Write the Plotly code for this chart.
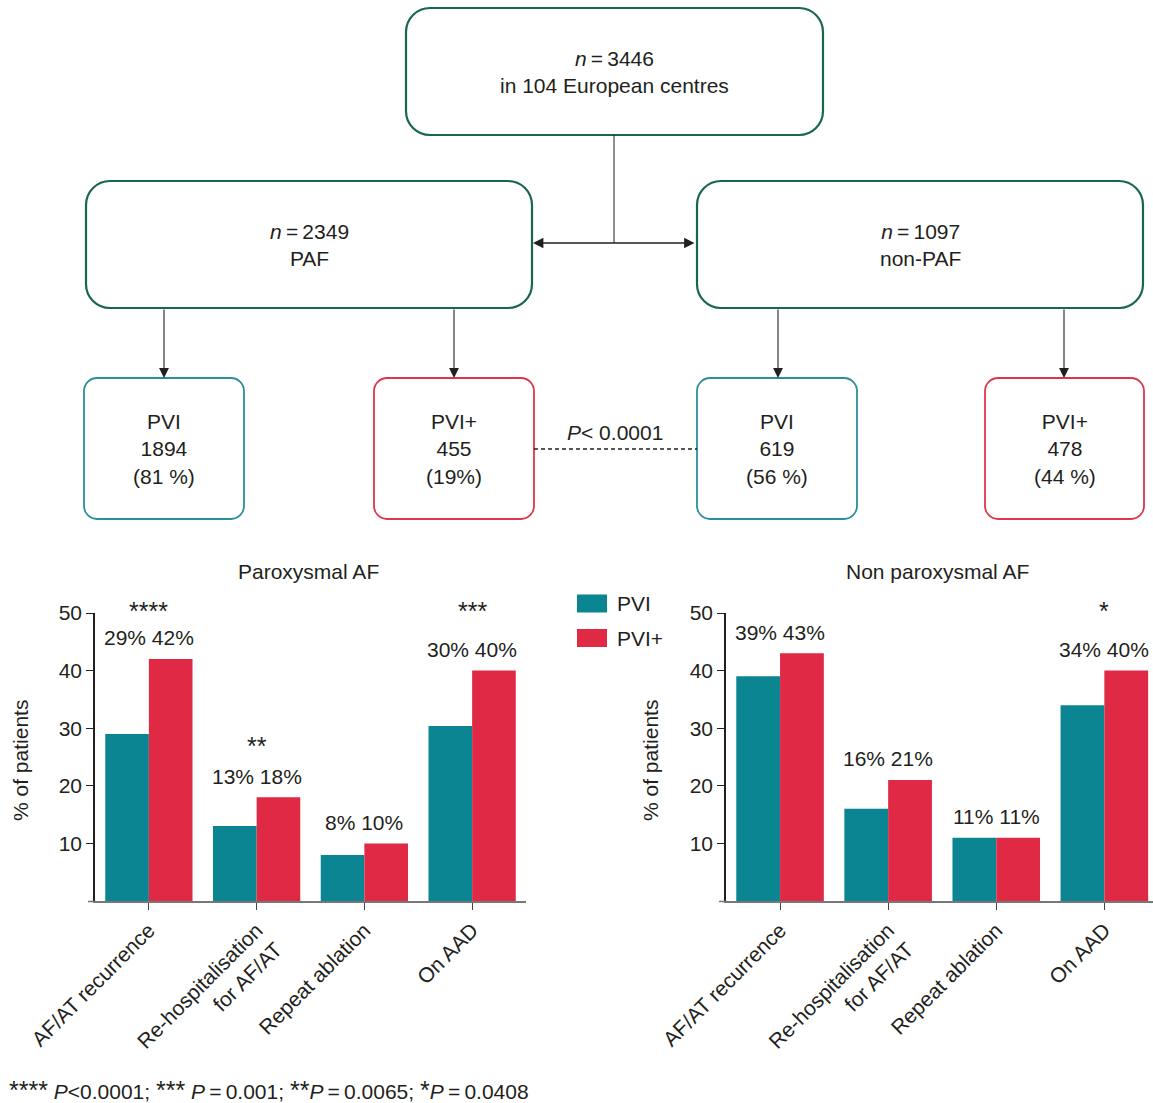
import plotly.graph_objects as go
import numpy as np

W, H = 1153, 1103

# ---------------- data ----------------
categories = ["AF/AT recurrence", "Re-hospitalisation<br>for AF/AT", "Repeat ablation", "On AAD"]
series_names = ["PVI", "PVI+"]

paf_pvi = [29, 13, 8, 30.4]
paf_pvi_plus = [42, 18, 10, 40]
paf_labels = ["29% 42%", "13% 18%", "8% 10%", "30% 40%"]
paf_sig = ["****", "**", "", "***"]

npaf_pvi = [39, 16, 11, 34]
npaf_pvi_plus = [43, 21, 11, 40]
npaf_labels = ["39% 43%", "16% 21%", "11% 11%", "34% 40%"]
npaf_sig = ["", "", "", "*"]

y_ticks = [10, 20, 30, 40, 50]
panel_titles = ["Paroxysmal AF", "Non paroxysmal AF"]
y_title = "% of patients"

top_text = "<i>n</i>\u2009=\u20093446<br>in 104 European centres"
paf_text = "<i>n</i>\u2009=\u20092349<br>PAF"
npaf_text = "<i>n</i>\u2009=\u20091097<br>non-PAF"
arm_texts = ["PVI<br>1894<br>(81 %)", "PVI+<br>455<br>(19%)", "PVI<br>619<br>(56 %)", "PVI+<br>478<br>(44 %)"]
p_text = "<i>P</i>&lt; 0.0001"
STAR = '<span style="font-size:25px">{}</span>'
footnote = (STAR.format("****") + " <i>P</i>&lt;0.0001; " + STAR.format("***") +
            " <i>P</i>\u2009=\u20090.001; " + STAR.format("**") + "<i>P</i>\u2009=\u20090.0065; " +
            STAR.format("*") + "<i>P</i>\u2009=\u20090.0408")

# ---------------- style ----------------
FONT = "Liberation Sans, Arial, Helvetica, sans-serif"
TXT = "#231f20"
TEAL = "#0b8591"
RED = "#e02945"
GREEN = "#17674a"
TEAL_BOX = "#2a8f9c"
RED_BOX = "#e0354f"
FS = 21


def X(x):
    return x / W


def Y(y):
    return 1 - y / H


def rrect(x0, y0, x1, y1, r):
    k = 0.5523 * r
    pts = [
        f"M {X(x0 + r)},{Y(y0)}",
        f"L {X(x1 - r)},{Y(y0)}",
        f"C {X(x1 - r + k)},{Y(y0)} {X(x1)},{Y(y0 + r - k)} {X(x1)},{Y(y0 + r)}",
        f"L {X(x1)},{Y(y1 - r)}",
        f"C {X(x1)},{Y(y1 - r + k)} {X(x1 - r + k)},{Y(y1)} {X(x1 - r)},{Y(y1)}",
        f"L {X(x0 + r)},{Y(y1)}",
        f"C {X(x0 + r - k)},{Y(y1)} {X(x0)},{Y(y1 - r + k)} {X(x0)},{Y(y1 - r)}",
        f"L {X(x0)},{Y(y0 + r)}",
        f"C {X(x0)},{Y(y0 + r - k)} {X(x0 + r - k)},{Y(y0)} {X(x0 + r)},{Y(y0)}",
        "Z",
    ]
    return " ".join(pts)


def note(x, y, text, xanchor="center", **kw):
    d = dict(x=X(x), y=Y(y), xref="paper", yref="paper", text=text, showarrow=False,
             xanchor=xanchor, yanchor="middle", font=dict(size=FS, color=TXT, family=FONT))
    d.update(kw)
    return d


fig = go.Figure()

idx = np.arange(len(categories))
panels = [
    (paf_pvi, paf_pvi_plus, paf_labels, paf_sig, "x", "y"),
    (npaf_pvi, npaf_pvi_plus, npaf_labels, npaf_sig, "x2", "y2"),
]
for pvi, pvip, labels, sig, xa, ya in panels:
    fig.add_trace(go.Bar(x=idx, y=pvi, name=series_names[0], marker=dict(color=TEAL, line=dict(width=0)),
                         xaxis=xa, yaxis=ya, showlegend=False, hoverinfo="skip"))
    fig.add_trace(go.Bar(x=idx, y=pvip, name=series_names[1], marker=dict(color=RED, line=dict(width=0)),
                         xaxis=xa, yaxis=ya, showlegend=False, hoverinfo="skip"))

annotations = []
for pvi, pvip, labels, sig, xa, ya in panels:
    for i in idx:
        top = max(pvi[i], pvip[i])
        ly = top + 3.7
        annotations.append(dict(x=i, y=ly, xref=xa, yref=ya, text=labels[i], showarrow=False,
                                xanchor="center", yanchor="middle",
                                font=dict(size=FS, color=TXT, family=FONT)))
        if sig[i]:
            high = ly + 5.2 >= 40
            sy = 49.6 if high else ly + 5.2
            annotations.append(dict(x=i, y=sy, xref=xa, yref=ya, text=sig[i], showarrow=False,
                                    xanchor="center", yanchor="middle", yshift=4 if high else 0,
                                    font=dict(size=25, color=TXT, family=FONT)))

# panel titles and y titles
for title, cx in zip(panel_titles, [308, 938]):
    annotations.append(note(cx, 571, title))
for cx in [20, 650]:
    annotations.append(note(cx, 761, y_title, textangle=-90))

# legend (manual)
shapes = []
for name, col, cy in zip(series_names, [TEAL, RED], [603.5, 638]):
    shapes.append(dict(type="rect", xref="paper", yref="paper", x0=X(577), x1=X(607), y0=Y(cy - 9), y1=Y(cy + 9),
                       fillcolor=col, line=dict(width=0)))
    annotations.append(note(615, cy, name, xanchor="left"))

# flowchart boxes
boxes = [
    (406, 8, 823, 135, 24, GREEN, 2.2, top_text),
    (86, 181, 532, 308, 24, GREEN, 2.2, paf_text),
    (697, 181, 1143, 308, 24, GREEN, 2.2, npaf_text),
    (84, 378, 244, 519, 13, TEAL_BOX, 1.8, arm_texts[0]),
    (374, 378, 534, 519, 13, RED_BOX, 1.8, arm_texts[1]),
    (697, 378, 857, 519, 13, TEAL_BOX, 1.8, arm_texts[2]),
    (985, 378, 1144, 519, 13, RED_BOX, 1.8, arm_texts[3]),
]
for x0, y0, x1, y1, r, col, lw, txt in boxes:
    shapes.append(dict(type="path", xref="paper", yref="paper", path=rrect(x0, y0, x1, y1, r),
                       line=dict(color=col, width=lw), fillcolor="rgba(0,0,0,0)"))
    annotations.append(note((x0 + x1) / 2, (y0 + y1) / 2 + 0.5, txt))

# connectors
shapes.append(dict(type="line", xref="paper", yref="paper", x0=X(614), x1=X(614), y0=Y(135), y1=Y(243),
                   line=dict(color=TXT, width=1)))
annotations.append(dict(x=X(533), y=Y(243), xref="paper", yref="paper", ax=163, ay=0, text="",
                        showarrow=True, arrowhead=2, arrowside="end+start", arrowsize=1.6, arrowwidth=1.3,
                        arrowcolor=TXT))
for ax_x, y_from in [(164, 308), (454, 308), (778, 308), (1064, 308)]:
    annotations.append(dict(x=X(ax_x), y=Y(378), xref="paper", yref="paper", ax=0, ay=-(378 - y_from),
                            text="", showarrow=True, arrowhead=2, arrowsize=1.8, arrowwidth=1.1,
                            arrowcolor=TXT))
shapes.append(dict(type="line", xref="paper", yref="paper", x0=X(534), x1=X(697), y0=Y(449), y1=Y(449),
                   line=dict(color=TXT, width=1.3, dash="4px,3px")))
annotations.append(note(615, 432, p_text))

# footnote
annotations.append(note(7, 1090, footnote, xanchor="left"))

xcommon = dict(tickmode="array", tickvals=list(idx), ticktext=categories, tickangle=-45, ticks="outside",
               ticklen=7, tickwidth=1.2, tickcolor="#444", showline=True, linecolor="#777", linewidth=1.5,
               showgrid=False, zeroline=False, tickfont=dict(size=FS, color=TXT, family=FONT), fixedrange=True,
               automargin=False)
ycommon = dict(range=[0, 50], tickmode="array", tickvals=y_ticks, ticks="outside", ticklen=7, tickwidth=1.2,
               tickcolor=TXT, showline=True, linecolor=TXT, linewidth=1.5, showgrid=False, zeroline=False,
               tickfont=dict(size=FS, color=TXT, family=FONT), fixedrange=True, automargin=False)

# short extension of the x-axis baseline past the y-axis (as in the original)
for x_left, x_right in [(88, 96), (719, 727)]:
    shapes.append(dict(type="line", xref="paper", yref="paper", x0=X(x_left), x1=X(x_right), y0=Y(901.5),
                       y1=Y(901.5), line=dict(color="#777", width=1.5)))

fig.update_layout(
    width=W, height=H,
    margin=dict(l=0, r=0, t=0, b=0, pad=0, autoexpand=False),
    paper_bgcolor="white", plot_bgcolor="white",
    barmode="group", bargap=0.19, bargroupgap=0,
    xaxis=dict(domain=[X(95), X(526)], range=[-0.5, 3.5], anchor="y", **xcommon),
    yaxis=dict(domain=[Y(901), Y(613)], anchor="x", **ycommon),
    xaxis2=dict(domain=[X(726), 1], range=[-0.5, 3.45], anchor="y2", **xcommon),
    yaxis2=dict(domain=[Y(901), Y(613)], anchor="x2", **ycommon),
    shapes=shapes,
    annotations=annotations,
    font=dict(family=FONT, color=TXT),
    showlegend=False,
)

fig.write_html("out.html")
